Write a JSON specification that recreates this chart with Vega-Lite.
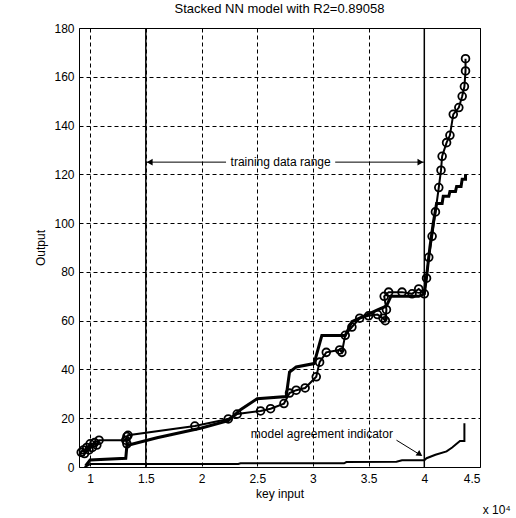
{
  "$schema": "https://vega.github.io/schema/vega-lite/v6.json",
  "width": 401,
  "height": 439,
  "autosize": "none",
  "padding": {"left": 79, "top": 28, "right": 36, "bottom": 51},
  "background": "white",
  "config": {
    "view": {"stroke": "black", "strokeWidth": 1},
    "font": "Liberation Sans",
    "axis": {
      "domain": false,
      "ticks": false,
      "grid": true,
      "gridColor": "black",
      "gridOpacity": 1,
      "gridWidth": 1,
      "gridDash": [4, 3],
      "labelFont": "Liberation Sans",
      "labelFontSize": 12,
      "labelColor": "black",
      "titleFont": "Liberation Sans",
      "titleFontSize": 12,
      "titleFontWeight": "normal",
      "titleColor": "black"
    }
  },
  "title": {
    "text": "Stacked NN model with R2=0.89058",
    "fontSize": 13,
    "font": "Liberation Sans",
    "fontWeight": "normal",
    "color": "black",
    "anchor": "middle",
    "offset": 6
  },
  "datasets": {
    "actual": [
      {"key": 9200, "out": 6}, {"key": 9400, "out": 7}, {"key": 9500, "out": 5.5}, {"key": 9700, "out": 8},
      {"key": 9900, "out": 7}, {"key": 10000, "out": 9.5}, {"key": 10200, "out": 8}, {"key": 10400, "out": 10},
      {"key": 10600, "out": 9}, {"key": 10800, "out": 11}, {"key": 13200, "out": 11}, {"key": 13300, "out": 9.5},
      {"key": 13300, "out": 12.5}, {"key": 13400, "out": 13}, {"key": 19400, "out": 16.8}, {"key": 22400, "out": 19.7},
      {"key": 23200, "out": 21.7}, {"key": 25300, "out": 23}, {"key": 26200, "out": 23.9}, {"key": 27400, "out": 26},
      {"key": 27900, "out": 30.3}, {"key": 28500, "out": 31.5}, {"key": 29300, "out": 32.4}, {"key": 30300, "out": 37},
      {"key": 30600, "out": 43}, {"key": 31200, "out": 47}, {"key": 32400, "out": 48}, {"key": 32600, "out": 47},
      {"key": 32900, "out": 54}, {"key": 33500, "out": 57.4}, {"key": 34200, "out": 61}, {"key": 35000, "out": 62},
      {"key": 35800, "out": 62.5}, {"key": 36300, "out": 61}, {"key": 36500, "out": 60}, {"key": 36600, "out": 64.5},
      {"key": 36400, "out": 70}, {"key": 36800, "out": 71.7}, {"key": 38000, "out": 71.7}, {"key": 38900, "out": 71},
      {"key": 39500, "out": 73}, {"key": 40000, "out": 71}, {"key": 40200, "out": 77.4}, {"key": 40400, "out": 86},
      {"key": 40700, "out": 94.6}, {"key": 41000, "out": 104.6}, {"key": 41300, "out": 114.6}, {"key": 41500, "out": 121.7},
      {"key": 41600, "out": 127.4}, {"key": 42000, "out": 133}, {"key": 42300, "out": 136}, {"key": 42600, "out": 144.6},
      {"key": 43100, "out": 147.4}, {"key": 43400, "out": 152}, {"key": 43600, "out": 156}, {"key": 43700, "out": 162.4},
      {"key": 43700, "out": 167.4}
    ],
    "nn": [
      {"key": 9600, "out": 0.5}, {"key": 10000, "out": 2.9}, {"key": 13200, "out": 3.6}, {"key": 13300, "out": 8.8},
      {"key": 16000, "out": 12}, {"key": 20000, "out": 16}, {"key": 22400, "out": 19}, {"key": 23500, "out": 23.5},
      {"key": 25000, "out": 28}, {"key": 27600, "out": 28.9}, {"key": 27900, "out": 38.9}, {"key": 28500, "out": 41},
      {"key": 30100, "out": 42.4}, {"key": 30800, "out": 53.9}, {"key": 32900, "out": 53.9}, {"key": 33500, "out": 59.6},
      {"key": 35900, "out": 64.6}, {"key": 36600, "out": 66}, {"key": 37000, "out": 70}, {"key": 39500, "out": 70},
      {"key": 40000, "out": 71}, {"key": 40200, "out": 78}, {"key": 40500, "out": 90}, {"key": 40800, "out": 100},
      {"key": 41100, "out": 108}, {"key": 41600, "out": 108}, {"key": 41700, "out": 111}, {"key": 42200, "out": 111},
      {"key": 42300, "out": 113}, {"key": 42800, "out": 113}, {"key": 42900, "out": 115}, {"key": 43300, "out": 115},
      {"key": 43400, "out": 118}, {"key": 43700, "out": 118}, {"key": 43700, "out": 120}
    ],
    "mai": [
      {"key": 9500, "out": 0}, {"key": 10000, "out": 1.2}, {"key": 23300, "out": 1.2}, {"key": 23500, "out": 1.5},
      {"key": 32800, "out": 1.5}, {"key": 33000, "out": 2}, {"key": 37500, "out": 2.2}, {"key": 38000, "out": 2.8},
      {"key": 40000, "out": 2.8}, {"key": 40200, "out": 3.6}, {"key": 41000, "out": 5}, {"key": 42000, "out": 6.4},
      {"key": 42500, "out": 8}, {"key": 43200, "out": 10.7}, {"key": 43600, "out": 10.7}, {"key": 43600, "out": 17.9}
    ]
  },
  "layer": [
    {
      "data": {"name": "nn"},
      "mark": {"type": "line", "color": "black", "strokeWidth": 3},
      "encoding": {
        "x": {
          "field": "key", "type": "quantitative",
          "scale": {"domain": [9000, 45000], "nice": false, "zero": false},
          "axis": {
            "title": "key input",
            "values": [10000, 15000, 20000, 25000, 30000, 35000, 40000, 45000],
            "labelExpr": "datum.value / 10000",
            "labelPadding": 6,
            "titlePadding": 4
          }
        },
        "y": {
          "field": "out", "type": "quantitative",
          "scale": {"domain": [0, 180], "nice": false},
          "axis": {
            "title": "Output",
            "values": [0, 20, 40, 60, 80, 100, 120, 140, 160, 180],
            "labelPadding": 5,
            "titlePadding": 6
          }
        },
        "order": {"value": null}
      }
    },
    {
      "data": {"name": "actual"},
      "mark": {"type": "line", "color": "black", "strokeWidth": 2},
      "encoding": {
        "x": {"field": "key", "type": "quantitative"},
        "y": {"field": "out", "type": "quantitative"},
        "order": {"value": null}
      }
    },
    {
      "data": {"name": "actual"},
      "mark": {"type": "point", "shape": "circle", "filled": false, "color": "black", "size": 60, "strokeWidth": 1.8, "opacity": 1},
      "encoding": {
        "x": {"field": "key", "type": "quantitative"},
        "y": {"field": "out", "type": "quantitative"}
      }
    },
    {
      "data": {"name": "mai"},
      "mark": {"type": "line", "color": "black", "strokeWidth": 2},
      "encoding": {
        "x": {"field": "key", "type": "quantitative"},
        "y": {"field": "out", "type": "quantitative"},
        "order": {"value": null}
      }
    },
    {
      "data": {"values": [{"key": 15000}, {"key": 40000}]},
      "mark": {"type": "rule", "color": "black", "strokeWidth": 1.5},
      "encoding": {"x": {"field": "key", "type": "quantitative"}}
    },
    {
      "data": {"values": [
        {"x1": 15000, "x2": 22200, "y1": 125, "y2": 125},
        {"x1": 32000, "x2": 40000, "y1": 125, "y2": 125},
        {"x1": 37500, "x2": 39700, "y1": 11, "y2": 4.8}
      ]},
      "mark": {"type": "rule", "color": "black", "strokeWidth": 1},
      "encoding": {
        "x": {"field": "x1", "type": "quantitative"},
        "x2": {"field": "x2"},
        "y": {"field": "y1", "type": "quantitative"},
        "y2": {"field": "y2"}
      }
    },
    {
      "data": {"values": [
        {"key": 15350, "out": 125, "shape": "triangle-left", "angle": 0},
        {"key": 39650, "out": 125, "shape": "triangle-right", "angle": 0},
        {"key": 39600, "out": 5.2, "shape": "triangle-right", "angle": 33}
      ]},
      "mark": {"type": "point", "filled": true, "color": "black", "size": 45, "opacity": 1},
      "encoding": {
        "x": {"field": "key", "type": "quantitative"},
        "y": {"field": "out", "type": "quantitative"},
        "shape": {"field": "shape", "type": "nominal", "scale": null},
        "angle": {"field": "angle", "type": "quantitative", "scale": null}
      }
    },
    {
      "data": {"values": [
        {"key": 27100, "out": 125, "label": "training data range"},
        {"key": 30800, "out": 13.5, "label": "model agreement indicator"},
        {"key": 46500, "out": -17.5, "label": "x 10⁴"}
      ]},
      "mark": {"type": "text", "color": "black", "fontSize": 12, "font": "Liberation Sans", "align": "center", "baseline": "middle"},
      "encoding": {
        "x": {"field": "key", "type": "quantitative"},
        "y": {"field": "out", "type": "quantitative"},
        "text": {"field": "label"}
      }
    }
  ]
}
